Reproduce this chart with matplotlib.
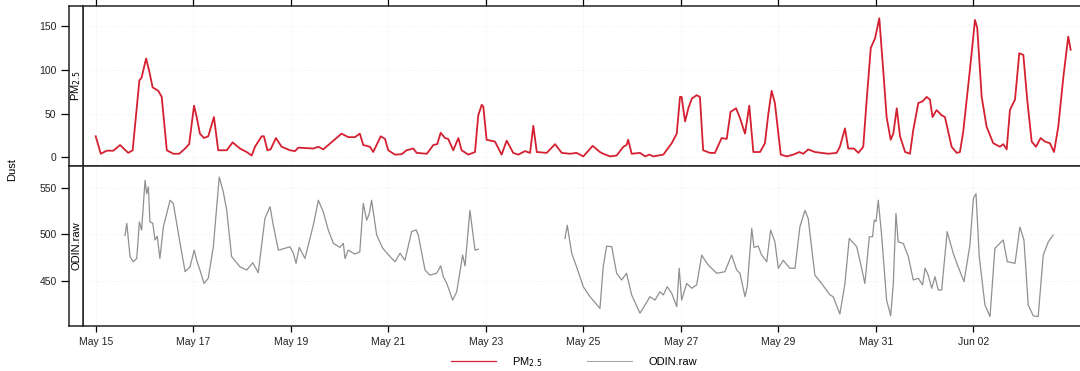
import numpy as np
import pandas as pd
import matplotlib
matplotlib.use("Agg")
import matplotlib.pyplot as plt
import matplotlib.dates as mdates

plt.rcParams['font.family'] = ['Liberation Sans', 'DejaVu Sans']

start = pd.Timestamp("2015-05-15")

# PM2.5, hours since May 15 00:00
pm_hours = [0, 2.5, 5.4, 8.7, 12, 16, 18.2, 21.5, 22.6, 24.8, 26.4, 28, 30.8, 32.5, 35, 38.2,
            41.1, 44, 46, 48.4, 49.7, 51.3, 53.3, 55.4, 58.2, 60.3, 64.5, 67.4, 71, 74.3, 76.8,
            78.4, 81.7, 82.8, 84.5, 86.1, 88.7, 91.5, 95.6, 98.1, 99.7, 107.1, 109.6, 112, 117,
            121, 124.3, 127.6, 130, 131.7, 135, 136.6, 140.3, 142.4, 144, 147.3, 150.6, 153,
            156.3, 158, 163, 166.2, 168.1, 169.8, 171.9, 173.5, 176, 178.5, 180.1, 183.4, 186.7,
            188.3, 190, 190.8, 192.4, 196.5, 199.8, 202.3, 205.5, 208, 211.3, 213.8, 215.4,
            217.1, 222, 226.1, 229.4, 233.5, 236.7, 240, 244.6, 248.2, 249.8, 253.1, 256.4,
            259.7, 261.3, 262.1, 263.8, 267.9, 270.4, 272.5, 274.5, 279.4, 283.5, 286, 287.6,
            288.4, 290.1, 291.7, 293.4, 295.8, 297.4, 299, 302.3, 304.8, 308.1, 310.6, 312.5,
            315.2, 317.1, 319.6, 321.7, 323.7, 327, 329.4, 331.1, 332.7, 334.3, 337.2, 340.1,
            343.4, 346.3, 348.3, 350.7, 354, 357.3, 360.6, 364.7, 366.3, 368.8, 370.4, 373.2,
            375.4, 377.8, 379.5, 381.5, 383.6, 385.7, 388, 389.3, 391.3, 392.6, 394.3, 395.9,
            398.4, 400.8, 402.4, 404.9, 407, 409, 410.6, 411.9, 413.9, 416.4, 418, 421.3, 423.8,
            425.4, 427, 430.3, 432.8, 433.9, 436.1, 438.5, 441.8, 445.1, 446.7, 448.4, 450,
            452.5, 454.6, 456.6, 458.5, 460.7, 462.8, 465.1, 467.2, 469.7, 471.7, 473.8, 476.3,
            478.7, 479.9]
pm_values = [24, 4, 7.5, 7.5, 14, 5, 8, 88, 91, 113, 98, 80, 76, 69, 8, 4,
             4, 10, 15, 59, 46, 27, 22, 24, 46, 8, 8, 17, 10, 6, 2,
             12, 24, 24, 8, 9, 22, 12, 8, 7, 11, 10, 12, 9, 19,
             27, 23, 23, 27, 14, 12, 6, 24, 21, 8, 3, 3.5, 8,
             10, 5, 4, 14, 15, 28, 22, 21, 8, 22, 8, 3, 6,
             48, 60, 58, 20, 18, 3, 19, 5, 3, 7, 5, 36,
             6, 5, 15, 5, 4, 5, 1, 13, 6, 4, 1, 2,
             12, 14, 20, 4, 5, 1, 3, 1, 3, 16, 27, 69,
             69, 41, 56, 67, 71, 69, 8, 5, 5, 22, 21, 52,
             56, 45, 27, 59, 6, 6, 16, 50, 76, 62, 3, 1,
             3, 6, 4, 9, 6, 5, 4, 5, 12, 33, 10, 10,
             5, 12, 66, 125, 136, 159, 88, 46, 20, 27, 56, 24,
             6, 4, 31, 62, 64, 69, 66, 46, 54, 48, 46, 12, 5,
             6, 29, 100, 157, 148, 69, 35, 16, 12, 15, 9, 54,
             66, 119, 117, 66, 18, 12, 22, 18, 16, 6, 35, 92,
             138, 123]

# ODIN raw counts, two segments with a gap
odin_hours_a = [14.4, 15.3, 16.9, 18.5, 20.2, 21.5, 22.6, 24.3, 25.1, 25.9, 26.7, 28.1, 29.2,
                30.3, 31.6, 33.3, 36.6, 38.2, 40.7, 44, 46.4, 48.5, 49.7, 51.3, 53.3, 55.4,
                57.9, 60.8, 62.8, 64.5, 66.9, 71, 74.3, 77.3, 80, 83.3, 85.8, 87.4, 89.9, 93.2,
                95.6, 97.3, 98.6, 100.2, 103, 107.1, 109.6, 112, 114.5, 117, 120.2, 121.9,
                122.7, 124.3, 127.6, 130, 131.7, 133.4, 134.7, 135.8, 138.3, 141.3, 144.9,
                147.3, 149.8, 152.2, 155.5, 157.7, 158.8, 162.1, 164.5, 167.8, 169.8, 171.1,
                172.8, 175.7, 177.7, 180.6, 181.8, 184.2, 186.7, 188.3]
odin_values_a = [499, 512, 476, 470.5, 474, 513.6, 504.7, 558.6, 544, 551.4, 513.6, 512, 494,
                 498, 474, 508, 537, 533.5, 501, 459.7, 465, 483, 472, 461.5, 447, 452.6,
                 486.7, 562, 546, 526, 476, 465, 461.5, 469.4, 458.6, 517.3, 530, 510, 483, 485,
                 486.7, 479.6, 468.8, 486, 474, 510, 537, 524.4, 504.7, 490.3, 486, 490.3,
                 474, 483, 478.8, 481.3, 533.5, 515.5, 522.7, 537, 499.3, 485, 476,
                 470.5, 479.6, 472, 503, 505, 499, 461.5, 456, 458, 466, 454.3,
                 447, 429, 438, 477.7, 466, 526, 483, 484]
odin_hours_b = [231, 232.1, 234.3, 236.7, 240, 243.3, 248.2, 249.8, 251.5, 254, 256.4, 258.9,
                261.3, 263.8, 267.9, 270.4, 272.8, 275.3, 277.7, 279.4, 281.3, 283.5, 286,
                287.2, 288.4, 290.9, 293.4, 295.8, 298.3, 299.9, 301.5, 305.7, 309.7, 313,
                315.5, 317.1, 319.6, 320.7, 322.9, 324, 326.1, 327.8, 330.3, 332.2, 334.3, 336,
                338.4, 341.7, 344.2, 346.6, 349.1, 350.7, 354, 357.3, 361.4, 363, 366.3, 368.8,
                370.9, 374.6, 377, 378.6, 380.8, 382.4, 383.2, 384.1, 385.2, 386.9, 389.3,
                391.3, 392.6, 393.9, 395, 397.5, 400, 402.4, 404.9, 407, 408.2, 409.8, 411.5,
                413.1, 414.7, 416.4, 419.1, 422.1, 424.5, 427.4, 430.3, 432, 433.3, 434.9,
                437.7, 440.2, 442.6, 446.7, 448.7, 452.5, 454.9, 456.9, 459, 461.5, 463.9,
                466.4, 468.9, 471.3]
odin_values_b = [495.7, 510, 479.6, 465, 443.5, 432.7, 420, 465, 487.4, 486.7, 458, 450.8,
                 458, 434.6, 414.8, 423.8, 432.7, 429, 438, 434.6, 443.5, 436.4, 422,
                 463.4, 429, 447, 441.8, 445.4, 477.7, 472, 467, 458, 459.7, 477.7,
                 461.5, 458, 432.7, 443.5, 506.5, 486, 487.4, 477.7, 470.5, 504.7, 492, 463.4,
                 472, 463.4, 463.4, 508, 526, 517.3, 456, 447, 434.6, 432.7, 414, 447,
                 495.7, 486.7, 463.4, 447, 497.5, 497.5, 515.5, 514, 537, 497.5, 429,
                 412, 447, 522.7, 492, 490.3, 476, 450.8, 452.6, 445.4, 463.4, 456, 441.8,
                 454.3, 440, 440, 503, 479.6, 465, 449, 488.5, 539, 544, 476,
                 423.8, 411.2, 485, 494, 470.5, 468.8, 508, 494, 423.8, 412, 411.2,
                 477.7, 492, 499.3]

tick_dates = pd.date_range("2015-05-15", "2015-06-02", freq="2D")


def to_time(hours):
    return start + pd.to_timedelta(np.array(hours), unit="h")


W, H = 1080, 371
fig = plt.figure(figsize=(W / 100, H / 100), dpi=100)

x_left = 83 / W
x_strip = 69 / W
pw = (1082 - 83) / W
sw = (83 - 69) / W
top_b, bot_b, ph = 1 - 166 / H, 1 - 326 / H, 160 / H

ax1 = fig.add_axes([x_left, top_b, pw, ph])
ax2 = fig.add_axes([x_left, bot_b, pw, ph], sharex=ax1)
s1 = fig.add_axes([x_strip, top_b, sw, ph], sharey=ax1)
s2 = fig.add_axes([x_strip, bot_b, sw, ph], sharey=ax2)

red = "#d42030"
grey = "#909090"

ax1.plot(to_time(pm_hours), pm_values, color=red, lw=1.3)
ax2.plot(to_time(odin_hours_a), odin_values_a, color=grey, lw=0.9)
ax2.plot(to_time(odin_hours_b), odin_values_b, color=grey, lw=0.9)

xmin = start + pd.Timedelta(days=-0.2605)
xmax = start + pd.Timedelta(days=20.228)
ax1.set_xlim(xmin, xmax)
ax1.set_ylim(-10, 173)
ax2.set_ylim(401, 574)

for ax in (ax1, ax2):
    ax.set_xticks(tick_dates)
    for s in ax.spines.values():
        s.set_linewidth(1.1)
        s.set_color("#222222")
    ax.grid(True, color="#ececec", lw=0.6, ls=":")
    ax.tick_params(axis="y", left=False, labelleft=False)

ax1.tick_params(axis="x", direction="out", length=5, width=0.9, bottom=False, top=True,
                labelbottom=False, labeltop=False)
ax2.tick_params(axis="x", direction="out", length=4, width=0.9, labelsize=7.5, pad=4,
                labelcolor="#222222")
ax2.xaxis.set_major_formatter(mdates.DateFormatter("%b %d"))
ax1.set_yticks([0, 50, 100, 150])
ax2.set_yticks([450, 500, 550])

for s, lab in ((s1, "PM$_{2.5}$"), (s2, "ODIN.raw")):
    s.set_xticks([])
    for sp in s.spines.values():
        sp.set_linewidth(1.1)
        sp.set_color("#222222")
    s.tick_params(axis="y", direction="out", length=6, width=0.9, labelsize=7.5, pad=3,
                  labelcolor="#222222")
    s.text(0.5, 0.5, lab, rotation=90, ha="center", va="center", fontsize=8,
           transform=s.transAxes)

fig.text(12 / W, 1 - 170 / H, "Dust", rotation=90, ha="center", va="center", fontsize=8)

fig.legend(handles=[plt.Line2D([], [], color=red, lw=0.9),
                    plt.Line2D([], [], color=grey, lw=0.6)],
           labels=["PM$_{2.5}$", "ODIN.raw"], loc="center", ncol=2,
           bbox_to_anchor=(574 / W, 1 - 362 / H), frameon=False, fontsize=8,
           handlelength=4, handletextpad=1.5, columnspacing=4)

fig.savefig("out.png", dpi=100)
